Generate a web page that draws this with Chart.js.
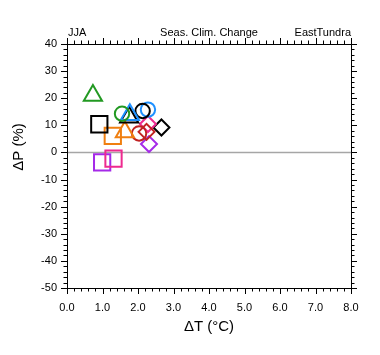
<!DOCTYPE html>
<html><head><meta charset="utf-8">
<script src="https://cdn.jsdelivr.net/npm/chart.js@4/dist/chart.umd.min.js"></script>
<style>html,body{margin:0;padding:0;background:#fff}#wrap{width:380px;height:355px}</style>
</head><body><div id="wrap"><canvas id="c" width="380" height="355"></canvas></div>
<script>
// ---- data ----
const models = ['m01','m02','m03','m04','m05','m06','m07','m08','m09','m10','m11','m12','m13','m14','m15','m16'];
const dT = [0.73, 1.55, 1.77, 1.75, 2.13, 2.28, 0.91, 1.29, 1.63, 2.03, 2.24, 2.28, 2.66, 2.31, 1.31, 0.99];
const dP = [21.0, 14.3, 13.9, 13.0, 15.3, 15.8, 10.4, 6.1, 7.5, 7.0, 7.6, 10.5, 9.2, 3.1, -2.3, -3.65];
const markerColor = ['#229922','#229922','#1E90FF','#000000','#000000','#1E90FF','#000000','#F07F10','#F07F10','#C02222','#C02222','#EE2A8F','#000000','#A52AE8','#EE2A8F','#A52AE8'];
const markerShape = ['triangle','circle','triangle','triangle','circle','circle','rect','rect','triangle','circle','rectRot','rectRot','rectRot','rectRot','rect','rect'];
const xTickValues = [0,1,2,3,4,5,6,7,8];
const yTickValues = [-50,-40,-30,-20,-10,0,10,20,30,40];
const xMinorStep = 0.2, yMinorStep = 2;
const titles = {left:'JJA', center:'Seas. Clim. Change', right:'EastTundra'};
const xTitle = '\u0394T (\u00B0C)', yTitle = '\u0394P (%)';

const radiusFor = {triangle:10.5, circle:7.2, rect:11.5, rectRot:8};
const FONT = '"Liberation Sans", Arial, Helvetica, sans-serif';

const datasets = models.map((m,i)=>({
  label: m,
  data: [{x: dT[i], y: dP[i]}],
  pointStyle: markerShape[i],
  pointRadius: radiusFor[markerShape[i]],
  pointHoverRadius: radiusFor[markerShape[i]],
  borderColor: markerColor[i],
  backgroundColor: 'rgba(0,0,0,0)',
  pointBorderWidth: 2,
  borderWidth: 2
}));

const deco = {
  id: 'deco',
  beforeDatasetsDraw(chart){
    const {ctx, chartArea:a, scales:{x,y}} = chart;
    const y0 = y.getPixelForValue(0);
    ctx.save();
    ctx.strokeStyle = '#a6a6a6'; ctx.lineWidth = 1.5;
    ctx.beginPath(); ctx.moveTo(a.left, y0); ctx.lineTo(a.right, y0); ctx.stroke();
    ctx.restore();
  },
  afterDraw(chart){
    const {ctx, chartArea:a, scales:{x,y}} = chart;
    ctx.save();
    ctx.strokeStyle = '#000'; ctx.lineWidth = 1;
    ctx.strokeRect(Math.round(a.left)+0.5, Math.round(a.top)+0.5, Math.round(a.right-a.left), Math.round(a.bottom-a.top));
    ctx.beginPath();
    const isMajor = (v, list) => list.some(t => Math.abs(t - v) < 1e-6);
    for (let v = x.min; v <= x.max + 1e-9; v += xMinorStep) {
      const px = Math.round(x.getPixelForValue(v)) + 0.5;
      const len = isMajor(v, xTickValues) ? 6 : 3.5;
      ctx.moveTo(px, a.bottom); ctx.lineTo(px, a.bottom + len);
      ctx.moveTo(px, a.top); ctx.lineTo(px, a.top - len);
    }
    for (let v = y.min; v <= y.max + 1e-9; v += yMinorStep) {
      const py = Math.round(y.getPixelForValue(v)) + 0.5;
      const len = isMajor(v, yTickValues) ? 6 : 3.5;
      ctx.moveTo(a.left, py); ctx.lineTo(a.left - len, py);
      ctx.moveTo(a.right, py); ctx.lineTo(a.right + len, py);
    }
    ctx.stroke();
    ctx.fillStyle = '#000';
    ctx.font = '11px ' + FONT;
    ctx.textBaseline = 'alphabetic';
    ctx.textAlign = 'left'; ctx.fillText(titles.left, a.left + 1, 36);
    ctx.textAlign = 'center'; ctx.fillText(titles.center, (a.left + a.right)/2, 36);
    ctx.textAlign = 'right'; ctx.fillText(titles.right, a.right, 36);
    ctx.font = '15px ' + FONT;
    ctx.textAlign = 'center'; ctx.textBaseline = 'middle';
    ctx.fillText(xTitle, (a.left + a.right)/2, 327);
    ctx.translate(19, 147); ctx.rotate(-Math.PI/2);
    ctx.fillText(yTitle, 0, 0);
    ctx.restore();
  }
};

new Chart(document.getElementById('c'), {
  type: 'scatter',
  data: { datasets },
  options: {
    responsive: false, animation: false, devicePixelRatio: 1,
    layout: { padding: { left: 0, top: 44, right: 29, bottom: 0 } },
    plugins: { legend: {display:false}, tooltip: {enabled:false}, title:{display:false} },
    scales: {
      x: {
        type: 'linear', min: 0, max: 8,
        afterFit(s){ s.height = 67; },
        afterBuildTicks(s){ s.ticks = xTickValues.map(v => ({value: v})); },
        grid: { display: false, drawTicks: false },
        border: { display: false },
        ticks: { color: '#000', font: { family: FONT, size: 11 }, padding: 13, maxRotation: 0, autoSkip: false,
                 callback: v => Number(v).toFixed(1) }
      },
      y: {
        type: 'linear', min: -50, max: 40,
        afterFit(s){ s.width = 67; },
        afterBuildTicks(s){ s.ticks = yTickValues.map(v => ({value: v})); },
        grid: { display: false, drawTicks: false },
        border: { display: false },
        ticks: { color: '#000', font: { family: FONT, size: 11 }, padding: 10, autoSkip: false,
                 callback: v => String(v) }
      }
    }
  },
  plugins: [deco]
});
</script>
</body></html>
